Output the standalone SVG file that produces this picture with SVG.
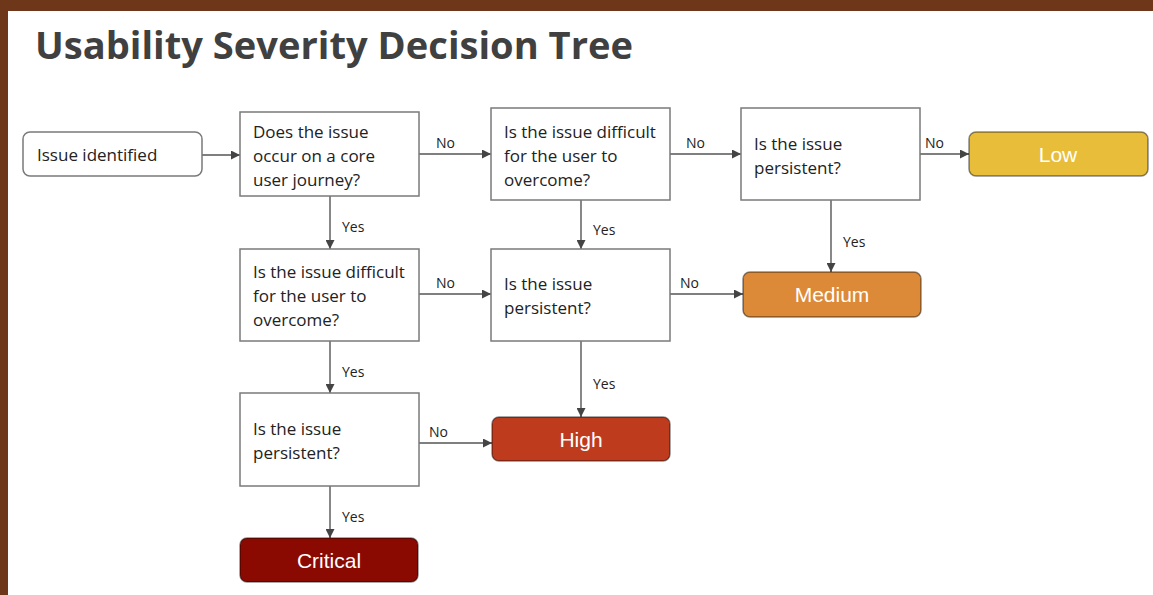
<svg xmlns="http://www.w3.org/2000/svg" width="1153" height="595" viewBox="0 0 1153 595">
<style>
.q{fill:#fff;stroke:#7a7a7a;stroke-width:1.5}
.t{font-family:"Open Sans","Liberation Sans",sans-serif;font-size:17px;fill:#222}
.o{stroke:rgba(0,0,0,0.45);stroke-width:1.5}
.w{font-family:"Liberation Sans",Arial,sans-serif;font-size:21px;fill:#fff;text-anchor:middle}
.l{font-family:"Open Sans","Liberation Sans",sans-serif;font-size:14px;fill:#222}
.c{stroke:#555;stroke-width:1.4;fill:none;marker-end:url(#ah)}
</style>
<defs>
<marker id="ah" viewBox="0 0 10 10" refX="10" refY="5" markerWidth="9" markerHeight="9" markerUnits="userSpaceOnUse" orient="auto">
<path d="M0,0 L10,5 L0,10 z" fill="#444"/>
</marker>
</defs>
<rect x="0" y="0" width="1153" height="595" fill="#fff"/>
<rect x="0" y="0" width="1153" height="11" fill="#6e371a"/>
<rect x="0" y="0" width="8" height="595" fill="#6e371a"/>
<text x="35" y="59" font-family="'Open Sans','Liberation Sans',sans-serif" font-weight="700" font-size="37" fill="#404040" textLength="598" lengthAdjust="spacingAndGlyphs">Usability Severity Decision Tree</text>

<g id="connectors">
<path class="c" d="M202,155 H240"/>
<path class="c" d="M419,154 H491"/>
<path class="c" d="M670,154 H741"/>
<path class="c" d="M920,154 H969"/>
<path class="c" d="M330,196 V249"/>
<path class="c" d="M581,200 V249"/>
<path class="c" d="M831,200 V272"/>
<path class="c" d="M419,294 H491"/>
<path class="c" d="M670,294 H743"/>
<path class="c" d="M330,341 V393"/>
<path class="c" d="M581,341 V417"/>
<path class="c" d="M419,443 H492"/>
<path class="c" d="M330,486 V538"/>
<text class="l" x="436" y="148">No</text>
<text class="l" x="686" y="148">No</text>
<text class="l" x="925" y="148">No</text>
<text class="l" x="342" y="232">Yes</text>
<text class="l" x="593" y="235">Yes</text>
<text class="l" x="843" y="247">Yes</text>
<text class="l" x="436" y="288">No</text>
<text class="l" x="680" y="288">No</text>
<text class="l" x="342" y="377">Yes</text>
<text class="l" x="593" y="389">Yes</text>
<text class="l" x="429" y="437">No</text>
<text class="l" x="342" y="522">Yes</text>
</g>

<g id="start">
<rect class="q" x="23" y="132" width="179" height="44" rx="7"/>
<text class="t" x="37" y="161">Issue identified</text>
</g>
<g id="q1">
<rect class="q" x="240" y="112" width="179" height="84"/>
<text class="t" x="253" y="138">Does the issue</text>
<text class="t" x="253" y="162">occur on a core</text>
<text class="t" x="253" y="186">user journey?</text>
</g>
<g id="q2">
<rect class="q" x="491" y="108" width="179" height="92"/>
<text class="t" x="504" y="138">Is the issue difficult</text>
<text class="t" x="504" y="162">for the user to</text>
<text class="t" x="504" y="186">overcome?</text>
</g>
<g id="q3">
<rect class="q" x="741" y="108" width="179" height="92"/>
<text class="t" x="754" y="150">Is the issue</text>
<text class="t" x="754" y="174">persistent?</text>
</g>
<g id="low">
<rect class="o" x="969" y="132" width="179" height="44" rx="7" fill="#e8bd3a"/>
<text class="w" x="1058" y="162">Low</text>
</g>
<g id="q4">
<rect class="q" x="240" y="249" width="179" height="92"/>
<text class="t" x="253" y="278">Is the issue difficult</text>
<text class="t" x="253" y="302">for the user to</text>
<text class="t" x="253" y="326">overcome?</text>
</g>
<g id="q5">
<rect class="q" x="491" y="249" width="179" height="92"/>
<text class="t" x="504" y="290">Is the issue</text>
<text class="t" x="504" y="314">persistent?</text>
</g>
<g id="medium">
<rect class="o" x="743" y="272" width="178" height="45" rx="7" fill="#dd8a38"/>
<text class="w" x="832" y="302">Medium</text>
</g>
<g id="q6">
<rect class="q" x="240" y="393" width="179" height="93"/>
<text class="t" x="253" y="435">Is the issue</text>
<text class="t" x="253" y="459">persistent?</text>
</g>
<g id="high">
<rect class="o" x="492" y="417" width="178" height="44" rx="7" fill="#bf3b1e"/>
<text class="w" x="581" y="447">High</text>
</g>
<g id="critical">
<rect class="o" x="240" y="538" width="178" height="44" rx="7" fill="#8a0a02"/>
<text class="w" x="329" y="568">Critical</text>
</g>
</svg>
